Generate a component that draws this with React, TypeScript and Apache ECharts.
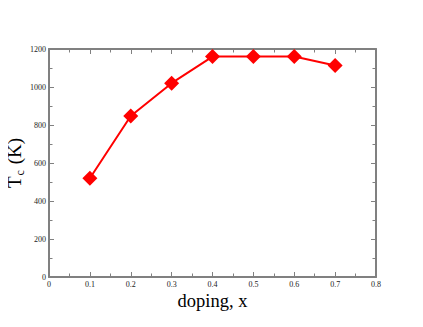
import React, { useEffect, useRef } from "react";
import * as echarts from "echarts";

const dopingX = [0.1, 0.2, 0.3, 0.4, 0.5, 0.6, 0.7];
const tcValues = [520, 847, 1020, 1160, 1160, 1160, 1113];

const frameColor = "#808080";
const serif = "'Liberation Serif', 'DejaVu Serif', serif";

export default function App() {
  const ref = useRef<HTMLDivElement>(null);
  useEffect(() => {
    if (!ref.current) return;
    const chart = echarts.init(ref.current, undefined, { renderer: "svg" });
    const tickCommon = {
      axisLine: { show: true, onZero: false, lineStyle: { color: frameColor, width: 2 } },
      axisTick: { show: true, inside: true, length: 5, lineStyle: { color: frameColor, width: 1 } },
      minorTick: { show: true, splitNumber: 2, length: 3.5, lineStyle: { color: frameColor, width: 1 } },
      splitLine: { show: false },
    };
    const xBase = { type: "value" as const, min: 0, max: 0.8, interval: 0.1 };
    const yBase = { type: "value" as const, min: 0, max: 1200, interval: 200 };
    chart.setOption({
      animation: false,
      backgroundColor: "#ffffff",
      grid: { left: 49, top: 49, width: 327, height: 228, containLabel: false, outerBoundsMode: "none" },
      xAxis: [
        {
          ...xBase,
          ...tickCommon,
          position: "bottom",
          axisLabel: {
            show: true,
            fontFamily: serif,
            fontSize: 8,
            color: "#222",
            margin: 3,
            formatter: (v: number) => (v === 0 ? "0" : String(Math.round(v * 10) / 10)),
          },
          name: "doping, x",
          nameLocation: "middle",
          nameGap: 14,
          nameMoveOverlap: false,
          nameTextStyle: { fontFamily: serif, fontSize: 18.5, color: "#000" },
        },
        {
          ...xBase,
          ...tickCommon,
          position: "top",
          axisLabel: { show: false },
        },
      ],
      yAxis: [
        {
          ...yBase,
          ...tickCommon,
          position: "left",
          axisLabel: {
            show: true,
            fontFamily: serif,
            fontSize: 8,
            color: "#222",
            margin: 3,
            formatter: (v: number) => String(v),
          },
          name: "{t|T}{c|c}{t| (K)}",
          nameLocation: "middle",
          nameGap: 23,
          nameMoveOverlap: false,
          nameRotate: 90,
          nameTextStyle: {
            fontFamily: serif,
            color: "#000",
            rich: {
              t: { fontFamily: serif, fontSize: 19, color: "#000" },
              c: { fontFamily: serif, fontSize: 12, color: "#000", padding: [11, 1, 0, 1] },
            },
          },
        },
        {
          ...yBase,
          ...tickCommon,
          position: "right",
          axisLabel: { show: false },
        },
      ],
      series: [
        {
          type: "line",
          data: dopingX.map((x, i) => [x, tcValues[i]]),
          symbol: "diamond",
          symbolSize: 15,
          itemStyle: { color: "#ff0000" },
          lineStyle: { color: "#ff0000", width: 2 },
          xAxisIndex: 0,
          yAxisIndex: 0,
        },
      ],
    });
    return () => chart.dispose();
  }, []);
  return <div ref={ref} style={{ width: 423, height: 327, margin: -8 }} />;
}
